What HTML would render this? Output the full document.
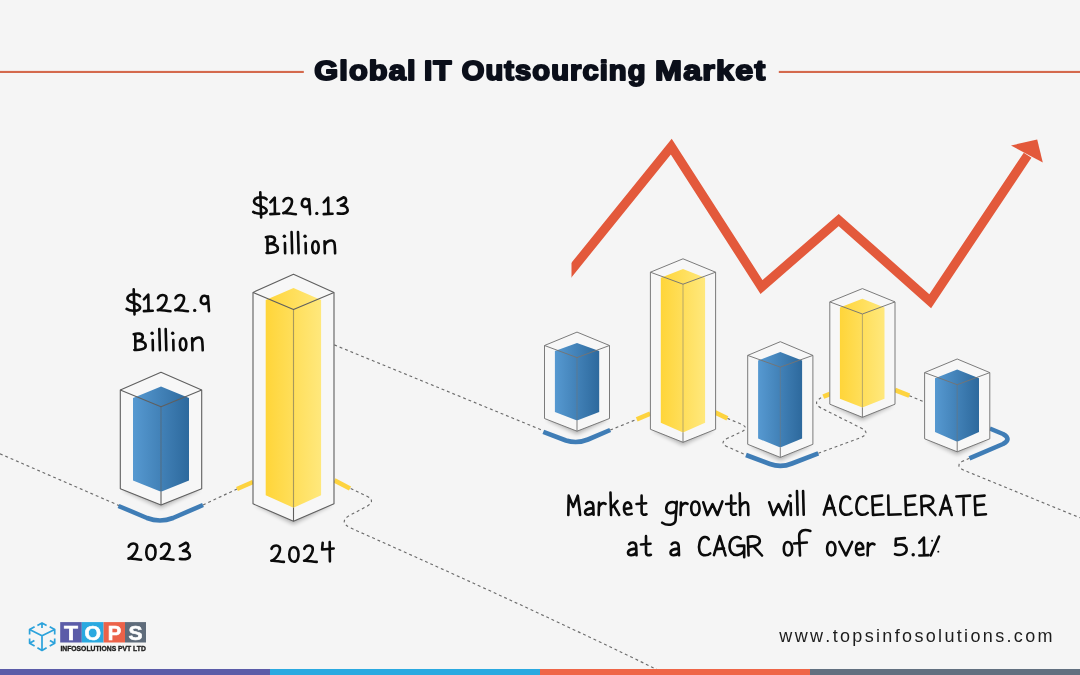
<!DOCTYPE html>
<html><head><meta charset="utf-8">
<style>
html,body{margin:0;padding:0;}
body{width:1080px;height:675px;overflow:hidden;background:#f5f5f5;font-family:"Liberation Sans",sans-serif;position:relative;}
svg{position:absolute;left:0;top:0;will-change:transform;}
.hw path{vector-effect:non-scaling-stroke;}
</style></head><body>
<svg width="1080" height="675" viewBox="0 0 1080 675">
<defs>
<linearGradient id="gb" x1="0" y1="0" x2="1" y2="0"><stop offset="0" stop-color="#5699d1"/><stop offset="1" stop-color="#2d699d"/></linearGradient>
<linearGradient id="gy" x1="0" y1="0" x2="1" y2="0"><stop offset="0" stop-color="#ffd539"/><stop offset="1" stop-color="#ffe87c"/></linearGradient>
<clipPath id="cl"><rect x="571.5" y="100" width="520" height="260"/></clipPath>
<filter id="blur" x="-20%" y="-50%" width="140%" height="200%"><feGaussianBlur stdDeviation="2.2"/></filter>
</defs>
<rect width="1080" height="675" fill="#f5f5f5"/>
<!-- title rules -->
<rect x="0" y="70.9" width="303.8" height="2.1" fill="#d4694d"/>
<rect x="778.8" y="70.9" width="301.2" height="2.1" fill="#d4694d"/>

<!-- dotted connectors -->
<path fill="none" stroke="#6c6c6c" stroke-width="1.15" stroke-dasharray="2.9 2.9" d="M0,453.8 L119.2,505.6"/>
<path fill="none" stroke="#6c6c6c" stroke-width="1.15" stroke-dasharray="2.9 2.9" d="M203,505 L237,489"/>
<path fill="none" stroke="#6c6c6c" stroke-width="1.15" stroke-dasharray="2.9 2.9" d="M350.7,488.4 L366.5,496 Q376.5,501 366.5,506.5 L349.5,515.5 Q339,521.5 349.5,527.5 Q530,607.6 656.5,669.3"/>
<path fill="none" stroke="#6c6c6c" stroke-width="1.15" stroke-dasharray="2.9 2.9" d="M334.3,344.9 L543.6,430.8"/>
<path fill="none" stroke="#6c6c6c" stroke-width="1.15" stroke-dasharray="2.9 2.9" d="M610.2,430 L636.7,419.4"/>
<path fill="none" stroke="#6c6c6c" stroke-width="1.15" stroke-dasharray="2.9 2.9" d="M727.4,418.4 L741,424 Q750,428 741,432 L728,438 Q718,443 728,447 L746,455"/>
<path fill="none" stroke="#6c6c6c" stroke-width="1.15" stroke-dasharray="2.9 2.9" d="M818.3,453.3 L861,437.5 Q871,433 861,428 L821,408 Q811,402 823.3,396.7"/>
<path fill="none" stroke="#6c6c6c" stroke-width="1.15" stroke-dasharray="2.9 2.9" d="M909.3,395.7 L925,402.3"/>
<path fill="none" stroke="#6c6c6c" stroke-width="1.15" stroke-dasharray="2.9 2.9" d="M969.4,458.3 L962,461.5 Q955,466 964,470.3 L1080,517.8"/>
<!-- coloured connectors -->
<path fill="none" stroke="#3f7db6" stroke-width="4.6" stroke-linecap="butt" stroke-linejoin="round" d="M118.5,506 L147,518 Q160,523 173,518 L203,505"/>
<path fill="none" stroke="#fdd33f" stroke-width="4.6" stroke-linecap="butt" d="M237,489 L253,482"/>
<path fill="none" stroke="#fdd33f" stroke-width="4.6" stroke-linecap="butt" d="M334.4,480.4 L350,488.5"/>
<path fill="none" stroke="#3f7db6" stroke-width="4.6" stroke-linecap="butt" stroke-linejoin="round" d="M543.3,431.9 L566,440.5 Q577,444 588,439.5 L610.2,430"/>
<path fill="none" stroke="#fdd33f" stroke-width="4.6" stroke-linecap="butt" d="M636.7,419.4 L650.2,413.7"/>
<path fill="none" stroke="#fdd33f" stroke-width="4.6" stroke-linecap="butt" d="M715,412.4 L727.4,418.4"/>
<path fill="none" stroke="#3f7db6" stroke-width="4.6" stroke-linecap="butt" stroke-linejoin="round" d="M746,455 L770,464 Q781,468 792,463.5 L818.3,453.3"/>
<path fill="none" stroke="#fdd33f" stroke-width="4.6" stroke-linecap="butt" d="M823.3,396.7 L830,394"/>
<path fill="none" stroke="#fdd33f" stroke-width="4.6" stroke-linecap="butt" d="M895,390 L909.3,395.7"/>
<path fill="none" stroke="#3f7db6" stroke-width="4.6" stroke-linecap="butt" stroke-linejoin="round" d="M989.8,428.5 L1003,434 Q1012,439 1003,444 L969.4,458.3"/>

<!-- trend arrow -->
<polyline points="563.4,280 671.3,146.7 761.5,287 838.7,220 930.2,301.2 1027.6,155.2" fill="none" stroke="#e3593b" stroke-width="9.2" stroke-linejoin="miter" stroke-miterlimit="10" clip-path="url(#cl)"/>
<polygon points="1037.2,139.6 1011,145.5 1042.8,162.4" fill="#e3593b"/>
<polygon points="122.3,489.7 161,508.0 199.7,489.7 161,480.7" fill="#000" opacity="0.28" filter="url(#blur)"/>
<polygon points="161,372.3 201.7,390.0 201.7,488.7 161,505.0 120.3,488.7 120.3,390.0" fill="#f7f7f7"/>
<polygon points="161,386.5 189.0,398.0 189.0,480.4 161,491.8 133.0,480.4 133.0,398.0" fill="url(#gb)"/>
<g fill="none" stroke="#5f5f5f" stroke-width="1.1" stroke-linejoin="round"><polygon points="161,372.3 201.7,390.0 201.7,488.7 161,505.0 120.3,488.7 120.3,390.0"/><polyline points="120.3,390.0 161,406.7 201.7,390.0"/><line x1="161" y1="406.7" x2="161" y2="491.8" stroke-opacity="0.55"/><line x1="161" y1="491.8" x2="161" y2="505.0"/></g>
<polygon points="255.0,504.8 293.5,524.2 332.0,504.8 293.5,495.8" fill="#000" opacity="0.28" filter="url(#blur)"/>
<polygon points="293.5,274.3 334.0,292.4 334.0,503.8 293.5,521.2 253.0,503.8 253.0,292.4" fill="#f7f7f7"/>
<polygon points="293.5,288.0 321.1,300.0 321.1,495.3 293.5,507.7 265.7,495.3 265.7,300.0" fill="url(#gy)"/>
<g fill="none" stroke="#5f5f5f" stroke-width="1.1" stroke-linejoin="round"><polygon points="293.5,274.3 334.0,292.4 334.0,503.8 293.5,521.2 253.0,503.8 253.0,292.4"/><polyline points="253.0,292.4 293.5,309.4 334.0,292.4"/><line x1="293.5" y1="309.4" x2="293.5" y2="507.7" stroke-opacity="0.55"/><line x1="293.5" y1="507.7" x2="293.5" y2="521.2"/></g>
<polygon points="546.5,419.5 577,434.2 607.5,419.5 577,410.5" fill="#000" opacity="0.28" filter="url(#blur)"/>
<polygon points="577,332.1 609.5,345.5 609.5,418.5 577,431.2 544.5,418.5 544.5,345.5" fill="#f7f7f7"/>
<polygon points="577,342.9 599.2,351.0 599.2,412.0 577,420.5 554.9,412.0 554.9,351.0" fill="url(#gb)"/>
<g fill="none" stroke="#747474" stroke-width="0.95" stroke-linejoin="round"><polygon points="577,332.1 609.5,345.5 609.5,418.5 577,431.2 544.5,418.5 544.5,345.5"/><polyline points="544.5,345.5 577,357.6 609.5,345.5"/><line x1="577" y1="357.6" x2="577" y2="420.5" stroke-opacity="0.55"/><line x1="577" y1="420.5" x2="577" y2="431.2"/></g>
<polygon points="652.4,430.3 683,445.3 713.6,430.3 683,421.3" fill="#000" opacity="0.28" filter="url(#blur)"/>
<polygon points="683,258.8 715.6,272.2 715.6,429.3 683,442.3 650.4,429.3 650.4,272.2" fill="#f7f7f7"/>
<polygon points="683,268.9 705.1,277.7 705.1,422.7 683,432.5 660.8,422.7 660.8,277.7" fill="url(#gy)"/>
<g fill="none" stroke="#747474" stroke-width="0.95" stroke-linejoin="round"><polygon points="683,258.8 715.6,272.2 715.6,429.3 683,442.3 650.4,429.3 650.4,272.2"/><polyline points="650.4,272.2 683,284.2 715.6,272.2"/><line x1="683" y1="284.2" x2="683" y2="432.5" stroke-opacity="0.55"/><line x1="683" y1="432.5" x2="683" y2="442.3"/></g>
<polygon points="749.6999999999999,445.3 780.3,460.4 810.9,445.3 780.3,436.3" fill="#000" opacity="0.28" filter="url(#blur)"/>
<polygon points="780.3,341.7 812.9,355.4 812.9,444.3 780.3,457.4 747.6999999999999,444.3 747.6999999999999,355.4" fill="#f7f7f7"/>
<polygon points="780.3,352.1 802.1,360.6 802.1,438.5 780.3,447.6 758.1,438.5 758.1,360.6" fill="url(#gb)"/>
<g fill="none" stroke="#747474" stroke-width="0.95" stroke-linejoin="round"><polygon points="780.3,341.7 812.9,355.4 812.9,444.3 780.3,457.4 747.6999999999999,444.3 747.6999999999999,355.4"/><polyline points="747.6999999999999,355.4 780.3,367.1 812.9,355.4"/><line x1="780.3" y1="367.1" x2="780.3" y2="447.6" stroke-opacity="0.55"/><line x1="780.3" y1="447.6" x2="780.3" y2="457.4"/></g>
<polygon points="831.8,405.2 862.4,420.3 893.0,405.2 862.4,396.2" fill="#000" opacity="0.28" filter="url(#blur)"/>
<polygon points="862.4,288.6 895.0,301.9 895.0,404.2 862.4,417.3 829.8,404.2 829.8,301.9" fill="#f7f7f7"/>
<polygon points="862.4,298.7 884.5,307.5 884.5,398.7 862.4,407.5 839.9,398.7 839.9,307.5" fill="url(#gy)"/>
<g fill="none" stroke="#747474" stroke-width="0.95" stroke-linejoin="round"><polygon points="862.4,288.6 895.0,301.9 895.0,404.2 862.4,417.3 829.8,404.2 829.8,301.9"/><polyline points="829.8,301.9 862.4,314.0 895.0,301.9"/><line x1="862.4" y1="314.0" x2="862.4" y2="407.5" stroke-opacity="0.55"/><line x1="862.4" y1="407.5" x2="862.4" y2="417.3"/></g>
<polygon points="926.6,439.8 957.2,454.8 987.8000000000001,439.8 957.2,430.8" fill="#000" opacity="0.28" filter="url(#blur)"/>
<polygon points="957.2,359.0 989.8000000000001,372.6 989.8000000000001,438.8 957.2,451.8 924.6,438.8 924.6,372.6" fill="#f7f7f7"/>
<polygon points="957.2,369.4 979.0,378.2 979.0,432.0 957.2,441.7 935.0,432.0 935.0,378.2" fill="url(#gb)"/>
<g fill="none" stroke="#747474" stroke-width="0.95" stroke-linejoin="round"><polygon points="957.2,359.0 989.8000000000001,372.6 989.8000000000001,438.8 957.2,451.8 924.6,438.8 924.6,372.6"/><polyline points="924.6,372.6 957.2,384.7 989.8000000000001,372.6"/><line x1="957.2" y1="384.7" x2="957.2" y2="441.7" stroke-opacity="0.55"/><line x1="957.2" y1="441.7" x2="957.2" y2="451.8"/></g>
<!-- bottom strip -->
<rect x="0" y="669" width="270" height="6" fill="#5b5ca8"/>
<rect x="270" y="669" width="270" height="6" fill="#2aa9e0"/>
<rect x="540" y="669" width="270" height="6" fill="#ef6547"/>
<rect x="810" y="669" width="270" height="6" fill="#627080"/>
<!-- logo -->
<g fill="none" stroke="#2ba2db" stroke-width="1.7" stroke-linecap="butt" stroke-linejoin="round">
<path d="M29.6,629.5 L42,635.8 L54.7,629.5 M42,635.8 L42,650.4"/>
<path d="M37.4,625.4 L42,622.9 L46.6,625.4 M42,622.9 L42,628"/>
<path d="M34.6,626.7 L29.6,629.5 L29.6,634.4"/>
<path d="M49.7,626.7 L54.7,629.5 L54.7,634.4"/>
<path d="M29.6,638.4 L29.6,643.3 L34.6,646.1 M29.6,643.3 L34.4,640.4"/>
<path d="M54.7,638.4 L54.7,643.3 L49.7,646.1 M54.7,643.3 L49.9,640.4"/>
<path d="M37.4,647.8 L42,650.4 L46.6,647.8"/>
</g>
<rect x="60.2" y="622.1" width="21.6" height="20.4" fill="#5b5ca8"/>
<rect x="81.8" y="622.1" width="21.8" height="20.4" fill="#2aa9e0"/>
<rect x="103.6" y="622.1" width="21.4" height="20.4" fill="#ec6249"/>
<rect x="125" y="622.1" width="21" height="20.4" fill="#5f6c7b"/>
<g font-family="Liberation Sans, sans-serif" font-weight="700" font-size="20" fill="#fff" text-anchor="middle" stroke="#fff" stroke-width="0.6">
<text x="71" y="639.5" textLength="14" lengthAdjust="spacingAndGlyphs">T</text>
<text x="92.7" y="639.5" textLength="16.6" lengthAdjust="spacingAndGlyphs">O</text>
<text x="114.5" y="639.5" textLength="13.5" lengthAdjust="spacingAndGlyphs">P</text>
<text x="135.5" y="639.5" textLength="14" lengthAdjust="spacingAndGlyphs">S</text>
</g>
<text x="60.4" y="651" font-family="Liberation Sans, sans-serif" font-weight="700" font-size="7.6" fill="#1a1a1a" stroke="#1a1a1a" stroke-width="0.35" textLength="85.4" lengthAdjust="spacingAndGlyphs">INFOSOLUTIONS PVT LTD</text>
</svg>

<svg width="1080" height="675" viewBox="0 0 1080 675" style="font-family:'Liberation Sans',sans-serif;font-kerning:none;"><text transform="translate(314.14,79.7) scale(1.1202,1)" x="0" y="0" font-size="27.5" font-weight="700" letter-spacing="1.0" fill="#0b0f1a" stroke="#0b0f1a" stroke-width="2.0" stroke-linejoin="round" style="vector-effect:non-scaling-stroke">Global</text>
<text transform="translate(423.90,79.7) scale(1.0857,1)" x="0" y="0" font-size="27.5" font-weight="700" letter-spacing="1.0" fill="#0b0f1a" stroke="#0b0f1a" stroke-width="2.0" stroke-linejoin="round" style="vector-effect:non-scaling-stroke">IT</text>
<text transform="translate(461.81,79.7) scale(1.0592,1)" x="0" y="0" font-size="27.5" font-weight="700" letter-spacing="1.0" fill="#0b0f1a" stroke="#0b0f1a" stroke-width="2.0" stroke-linejoin="round" style="vector-effect:non-scaling-stroke">Outsourcing</text>
<text transform="translate(655.04,79.7) scale(1.1763,1)" x="0" y="0" font-size="27.5" font-weight="700" letter-spacing="1.0" fill="#0b0f1a" stroke="#0b0f1a" stroke-width="2.0" stroke-linejoin="round" style="vector-effect:non-scaling-stroke">Market</text>
<g class="hw" fill="none" stroke="#0b0b0b" stroke-width="2.6" stroke-linecap="round" stroke-linejoin="round"><!-- $129.13 gap=4.95 --><g transform="translate(253.20,214.1) scale(0.2030,0.1810)"><path d="M66,-82 C55,-96 18,-98 7,-80 C-3,-60 16,-52 36,-44 C58,-36 72,-26 64,-12 C55,3 15,0 0,-12 M35,-120 L39,18"/></g><g transform="translate(270.35,214.1) scale(0.1571,0.1810)"><path d="M0,-65 L28,-91 L29,-1 M0,0 L56,-2"/></g><g transform="translate(283.10,214.1) scale(0.2000,0.1810)"><path d="M2,-71 C6,-89 30,-95 41,-82 C50,-68 40,-39 22,-20 C14,-11 6,-7 1,-5.5 C20,-9 40,0 64,1"/></g><g transform="translate(301.65,214.1) scale(0.1826,0.1810)"><path d="M41,-64 C38,-90 8,-93 2,-66 C-4,-38 24,-30 41,-52 M40,-82 L46,0"/></g><g transform="translate(316.20,214.1) scale(0.2000,0.1720)"><ellipse cx="3" cy="-4" rx="8.25" ry="9.59" fill="#0b0b0b" stroke="none"/></g><g transform="translate(323.75,214.1) scale(0.1571,0.1810)"><path d="M0,-65 L28,-91 L29,-1 M0,0 L56,-2"/></g><g transform="translate(337.70,214.1) scale(0.1961,0.1810)"><path d="M0,-75 L31,-93 C44,-90 46,-72 38,-62 C32,-54 24,-50 16,-48 C35,-48 50,-38 51,-22 C51,-5 30,2 0,-4"/></g></g>
<g class="hw" fill="none" stroke="#0b0b0b" stroke-width="2.6" stroke-linecap="round" stroke-linejoin="round"><!-- Billion gap=5.83 --><g transform="translate(265.90,253.29999999999998) scale(0.1714,0.1720)"><path d="M9,-95 L10,-2 M0,-94 C20,-100 51,-101 53,-80 C54,-62 32,-55 15,-53 C45,-57 70,-46 70,-27 C70,-5 30,0 4,-2"/></g><g transform="translate(283.73,253.29999999999998) scale(0.2000,0.1720)"><path d="M6,-60 L7,0"/><ellipse cx="3" cy="-99" rx="8.55" ry="9.94" fill="#0b0b0b" stroke="none"/></g><g transform="translate(291.57,253.29999999999998) scale(0.2000,0.1720)"><path d="M0,-124 L3,-1"/></g><g transform="translate(298.00,253.29999999999998) scale(0.2000,0.1720)"><path d="M0,-124 L3,-1"/></g><g transform="translate(304.43,253.29999999999998) scale(0.2000,0.1720)"><path d="M6,-60 L7,0"/><ellipse cx="3" cy="-99" rx="8.55" ry="9.94" fill="#0b0b0b" stroke="none"/></g><g transform="translate(312.27,253.29999999999998) scale(0.1600,0.1720)"><path d="M20,-70 C4,-70 0,-50 0,-35 C0,-18 6,0 20,0 C34,0 40,-18 40,-35 C40,-52 34,-70 20,-70 Z"/></g><g transform="translate(324.50,253.29999999999998) scale(0.2000,0.1720)"><path d="M0,-70 L2,0 M2,-48 C10,-72 40,-86 49,-62 C53,-45 52,-20 53,0"/></g></g>
<g class="hw" fill="none" stroke="#0b0b0b" stroke-width="2.6" stroke-linecap="round" stroke-linejoin="round"><!-- $122.9 gap=4.52 --><g transform="translate(126.60,311.09999999999997) scale(0.2030,0.1810)"><path d="M66,-82 C55,-96 18,-98 7,-80 C-3,-60 16,-52 36,-44 C58,-36 72,-26 64,-12 C55,3 15,0 0,-12 M35,-120 L39,18"/></g><g transform="translate(143.92,311.09999999999997) scale(0.1571,0.1810)"><path d="M0,-65 L28,-91 L29,-1 M0,0 L56,-2"/></g><g transform="translate(157.64,311.09999999999997) scale(0.2000,0.1810)"><path d="M2,-71 C6,-89 30,-95 41,-82 C50,-68 40,-39 22,-20 C14,-11 6,-7 1,-5.5 C20,-9 40,0 64,1"/></g><g transform="translate(175.16,311.09999999999997) scale(0.2000,0.1810)"><path d="M2,-71 C6,-89 30,-95 41,-82 C50,-68 40,-39 22,-20 C14,-11 6,-7 1,-5.5 C20,-9 40,0 64,1"/></g><g transform="translate(194.08,311.09999999999997) scale(0.2000,0.1720)"><ellipse cx="3" cy="-4" rx="8.25" ry="9.59" fill="#0b0b0b" stroke="none"/></g><g transform="translate(200.60,311.09999999999997) scale(0.1826,0.1810)"><path d="M41,-64 C38,-90 8,-93 2,-66 C-4,-38 24,-30 41,-52 M40,-82 L46,0"/></g></g>
<g class="hw" fill="none" stroke="#0b0b0b" stroke-width="2.6" stroke-linecap="round" stroke-linejoin="round"><!-- Billion gap=5.80 --><g transform="translate(133.70,350.3) scale(0.1714,0.1720)"><path d="M9,-95 L10,-2 M0,-94 C20,-100 51,-101 53,-80 C54,-62 32,-55 15,-53 C45,-57 70,-46 70,-27 C70,-5 30,0 4,-2"/></g><g transform="translate(151.50,350.3) scale(0.2000,0.1720)"><path d="M6,-60 L7,0"/><ellipse cx="3" cy="-99" rx="8.55" ry="9.94" fill="#0b0b0b" stroke="none"/></g><g transform="translate(159.30,350.3) scale(0.2000,0.1720)"><path d="M0,-124 L3,-1"/></g><g transform="translate(165.70,350.3) scale(0.2000,0.1720)"><path d="M0,-124 L3,-1"/></g><g transform="translate(172.10,350.3) scale(0.2000,0.1720)"><path d="M6,-60 L7,0"/><ellipse cx="3" cy="-99" rx="8.55" ry="9.94" fill="#0b0b0b" stroke="none"/></g><g transform="translate(179.90,350.3) scale(0.1600,0.1720)"><path d="M20,-70 C4,-70 0,-50 0,-35 C0,-18 6,0 20,0 C34,0 40,-18 40,-35 C40,-52 34,-70 20,-70 Z"/></g><g transform="translate(192.10,350.3) scale(0.2000,0.1720)"><path d="M0,-70 L2,0 M2,-48 C10,-72 40,-86 49,-62 C53,-45 52,-20 53,0"/></g></g>
<g class="hw" fill="none" stroke="#0b0b0b" stroke-width="2.6" stroke-linecap="round" stroke-linejoin="round"><!-- 2023 gap=5.20 --><g transform="translate(128.30,559.6) scale(0.2000,0.1810)"><path d="M2,-71 C6,-89 30,-95 41,-82 C50,-68 40,-39 22,-20 C14,-11 6,-7 1,-5.5 C20,-9 40,0 64,1"/></g><g transform="translate(146.30,559.6) scale(0.2000,0.1810)"><path d="M23,-80 C5,-80 0,-58 0,-40 C0,-20 6,0 23,0 C40,0 46,-22 46,-40 C46,-58 41,-80 23,-80 Z"/></g><g transform="translate(160.70,559.6) scale(0.2000,0.1810)"><path d="M2,-71 C6,-89 30,-95 41,-82 C50,-68 40,-39 22,-20 C14,-11 6,-7 1,-5.5 C20,-9 40,0 64,1"/></g><g transform="translate(179.90,559.6) scale(0.1961,0.1810)"><path d="M0,-75 L31,-93 C44,-90 46,-72 38,-62 C32,-54 24,-50 16,-48 C35,-48 50,-38 51,-22 C51,-5 30,2 0,-4"/></g></g>
<g class="hw" fill="none" stroke="#0b0b0b" stroke-width="2.6" stroke-linecap="round" stroke-linejoin="round"><!-- 2024 gap=5.40 --><g transform="translate(271.10,561.7) scale(0.2000,0.1810)"><path d="M2,-71 C6,-89 30,-95 41,-82 C50,-68 40,-39 22,-20 C14,-11 6,-7 1,-5.5 C20,-9 40,0 64,1"/></g><g transform="translate(289.30,561.7) scale(0.2000,0.1810)"><path d="M23,-80 C5,-80 0,-58 0,-40 C0,-20 6,0 23,0 C40,0 46,-22 46,-40 C46,-58 41,-80 23,-80 Z"/></g><g transform="translate(303.90,561.7) scale(0.2000,0.1810)"><path d="M2,-71 C6,-89 30,-95 41,-82 C50,-68 40,-39 22,-20 C14,-11 6,-7 1,-5.5 C20,-9 40,0 64,1"/></g><g transform="translate(322.10,561.7) scale(0.2000,0.1810)"><path d="M3,-105 L0,-67 L58,-73 M38,-108 L39,-2"/></g></g>
<g class="hw" fill="none" stroke="#0b0b0b" stroke-width="2.6" stroke-linecap="round" stroke-linejoin="round"><!-- Market gap=4.91 --><g transform="translate(568.30,515.0) scale(0.1976,0.1934)"><path d="M0,0 L2,-100 L25,-42 L48,-100 L60,0"/></g><g transform="translate(585.06,515.0) scale(0.1938,0.1934)"><path d="M6,-58 C15,-71 40,-72 42,-50 L44,-1 M42,-33 C25,-37 0,-31 0,-14 C0,4 30,2 43,-15"/></g><g transform="translate(598.50,515.0) scale(0.1861,0.1934)"><path d="M3,-64 L1,0 M2,-40 C10,-58 24,-66 38,-58"/></g><g transform="translate(610.48,515.0) scale(0.1941,0.1934)"><path d="M0,-116 L3,0 M3,-36 L36,-73 M16,-50 L45,0"/></g><g transform="translate(624.12,515.0) scale(0.1872,0.1934)"><path d="M2,-31 L38,-36 C38,-56 28,-67 16,-65 C4,-62 -2,-45 0,-25 C2,-5 16,3 40,-6"/></g><g transform="translate(636.52,515.0) scale(0.1884,0.1934)"><path d="M27,-100 L27,-14 C27,-2 38,2 53,-4 M0,-57 L51,-61"/></g></g>
<g class="hw" fill="none" stroke="#0b0b0b" stroke-width="2.6" stroke-linecap="round" stroke-linejoin="round"><!-- growth gap=3.70 --><g transform="translate(662.20,515.0) scale(0.2080,0.1934)"><path d="M68,-58 C55,-73 25,-71 20,-40 C15,-4 50,-2 67,-24 M70,-68 L64,30 C60,52 25,58 0,40"/></g><g transform="translate(680.46,515.0) scale(0.1861,0.1934)"><path d="M3,-64 L1,0 M2,-40 C10,-58 24,-66 38,-58"/></g><g transform="translate(691.23,515.0) scale(0.2080,0.1934)"><path d="M20,-70 C4,-70 0,-50 0,-35 C0,-18 6,0 20,0 C34,0 40,-18 40,-35 C40,-52 34,-70 20,-70 Z"/></g><g transform="translate(703.25,515.0) scale(0.2080,0.1934)"><path d="M0,-66 L20,0 L45,-56 L68,0 L92,-70"/></g><g transform="translate(726.09,515.0) scale(0.1884,0.1934)"><path d="M27,-100 L27,-14 C27,-2 38,2 53,-4 M0,-57 L51,-61"/></g><g transform="translate(739.77,515.0) scale(0.2080,0.1934)"><path d="M0,-112 L2,0 M2,-42 C10,-62 38,-80 40,-48 L41,0"/></g></g>
<g class="hw" fill="none" stroke="#0b0b0b" stroke-width="2.6" stroke-linecap="round" stroke-linejoin="round"><!-- will gap=4.01 --><g transform="translate(769.20,515.0) scale(0.2080,0.1934)"><path d="M0,-66 L20,0 L45,-56 L68,0 L92,-70"/></g><g transform="translate(789.44,515.0) scale(0.2080,0.1934)"><path d="M6,-60 L7,0"/><ellipse cx="3" cy="-99" rx="8.52" ry="9.16" fill="#0b0b0b" stroke="none"/></g><g transform="translate(796.98,515.0) scale(0.2080,0.1934)"><path d="M0,-124 L3,-1"/></g><g transform="translate(803.08,515.0) scale(0.2080,0.1934)"><path d="M0,-124 L3,-1"/></g></g>
<g class="hw" fill="none" stroke="#0b0b0b" stroke-width="2.6" stroke-linecap="round" stroke-linejoin="round"><!-- ACCELERATE gap=4.66 --><g transform="translate(823.80,515.0) scale(0.2008,0.1934)"><path d="M0,-2 L29,-100 L58,0 M12,-33 L50,-37"/></g><g transform="translate(840.11,515.0) scale(0.1788,0.1934)"><path d="M56,-83 C45,-103 14,-100 5,-68 C-5,-34 5,-5 26,-2 C40,0 55,-3 64,-11"/></g><g transform="translate(856.22,515.0) scale(0.1788,0.1934)"><path d="M56,-83 C45,-103 14,-100 5,-68 C-5,-34 5,-5 26,-2 C40,0 55,-3 64,-11"/></g><g transform="translate(872.32,515.0) scale(0.1812,0.1934)"><path d="M54,-100 L0,-96 L4,0 L62,-4 M3,-50 L50,-54"/></g><g transform="translate(888.22,515.0) scale(0.1863,0.1934)"><path d="M0,-100 L2,-1 L67,-4"/></g><g transform="translate(905.36,515.0) scale(0.1812,0.1934)"><path d="M54,-100 L0,-96 L4,0 L62,-4 M3,-50 L50,-54"/></g><g transform="translate(921.26,515.0) scale(0.1790,0.1934)"><path d="M0,-96 L4,0 M0,-96 C30,-103 68,-98 67,-72 C66,-52 30,-47 8,-46 M33,-47 L79,0"/></g><g transform="translate(940.06,515.0) scale(0.2008,0.1934)"><path d="M0,-2 L29,-100 L58,0 M12,-33 L50,-37"/></g><g transform="translate(956.38,515.0) scale(0.1738,0.1934)"><path d="M0,-96 L79,-100 M41,-97 L42,0"/></g><g transform="translate(974.77,515.0) scale(0.1812,0.1934)"><path d="M54,-100 L0,-96 L4,0 L62,-4 M3,-50 L50,-54"/></g></g>
<g class="hw" fill="none" stroke="#0b0b0b" stroke-width="2.6" stroke-linecap="round" stroke-linejoin="round"><!-- at gap=4.39 --><g transform="translate(628.00,555.5) scale(0.1938,0.1934)"><path d="M6,-58 C15,-71 40,-72 42,-50 L44,-1 M42,-33 C25,-37 0,-31 0,-14 C0,4 30,2 43,-15"/></g><g transform="translate(640.92,555.5) scale(0.1884,0.1934)"><path d="M27,-100 L27,-14 C27,-2 38,2 53,-4 M0,-57 L51,-61"/></g></g>
<g class="hw" fill="none" stroke="#0b0b0b" stroke-width="2.6" stroke-linecap="round" stroke-linejoin="round"><!-- a gap=0.00 --><g transform="translate(670.50,555.5) scale(0.1938,0.1934)"><path d="M6,-58 C15,-71 40,-72 42,-50 L44,-1 M42,-33 C25,-37 0,-31 0,-14 C0,4 30,2 43,-15"/></g></g>
<g class="hw" fill="none" stroke="#0b0b0b" stroke-width="2.6" stroke-linecap="round" stroke-linejoin="round"><!-- CAGR gap=3.66 --><g transform="translate(698.80,555.5) scale(0.1788,0.1934)"><path d="M56,-83 C45,-103 14,-100 5,-68 C-5,-34 5,-5 26,-2 C40,0 55,-3 64,-11"/></g><g transform="translate(713.90,555.5) scale(0.2008,0.1934)"><path d="M0,-2 L29,-100 L58,0 M12,-33 L50,-37"/></g><g transform="translate(729.22,555.5) scale(0.1849,0.1934)"><path d="M62,-87 C46,-104 10,-96 3,-60 C-3,-20 20,1 45,-3 C60,-5 74,-14 80,-26 M44,-50 L81,-51 L81,9"/></g><g transform="translate(747.86,555.5) scale(0.1790,0.1934)"><path d="M0,-96 L4,0 M0,-96 C30,-103 68,-98 67,-72 C66,-52 30,-47 8,-46 M33,-47 L79,0"/></g></g>
<g class="hw" fill="none" stroke="#0b0b0b" stroke-width="2.6" stroke-linecap="round" stroke-linejoin="round"><!-- of gap=1.85 --><g transform="translate(783.80,555.5) scale(0.2080,0.1934)"><path d="M20,-70 C4,-70 0,-50 0,-35 C0,-18 6,0 20,0 C34,0 40,-18 40,-35 C40,-52 34,-70 20,-70 Z"/></g><g transform="translate(793.97,555.5) scale(0.2080,0.1934)"><path d="M29,0 L25,-100 C24,-126 45,-140 79,-127 M0,-62 L62,-67"/></g></g>
<g class="hw" fill="none" stroke="#0b0b0b" stroke-width="2.6" stroke-linecap="round" stroke-linejoin="round"><!-- over gap=3.87 --><g transform="translate(827.10,555.5) scale(0.2080,0.1934)"><path d="M20,-70 C4,-70 0,-50 0,-35 C0,-18 6,0 20,0 C34,0 40,-18 40,-35 C40,-52 34,-70 20,-70 Z"/></g><g transform="translate(839.29,555.5) scale(0.2080,0.1934)"><path d="M0,-70 L32,0 L62,-70"/></g><g transform="translate(856.07,555.5) scale(0.1872,0.1934)"><path d="M2,-31 L38,-36 C38,-56 28,-67 16,-65 C4,-62 -2,-45 0,-25 C2,-5 16,3 40,-6"/></g><g transform="translate(867.43,555.5) scale(0.1861,0.1934)"><path d="M3,-64 L1,0 M2,-40 C10,-58 24,-66 38,-58"/></g></g>
<g class="hw" fill="none" stroke="#0b0b0b" stroke-width="2.6" stroke-linecap="round" stroke-linejoin="round"><!-- 5.1% gap=4.06 --><g transform="translate(895.00,555.5) scale(0.1824,0.1976)"><path d="M54,-88 L5,-84 L3,-50 C25,-62 62,-55 64,-32 C66,-5 25,3 0,-7"/></g><g transform="translate(912.58,555.5) scale(0.2080,0.1934)"><ellipse cx="3" cy="-4" rx="8.22" ry="8.84" fill="#0b0b0b" stroke="none"/></g><g transform="translate(919.34,555.5) scale(0.1634,0.1976)"><path d="M0,-65 L28,-91 L29,-1 M0,0 L56,-2"/></g><g transform="translate(930.67,555.5) scale(0.1777,0.1934)"><path d="M47,-98 L0,0"/><ellipse cx="8" cy="-76" rx="5.53" ry="5.08" fill="#0b0b0b" stroke="none"/><ellipse cx="43" cy="-20" rx="5.53" ry="5.08" fill="#0b0b0b" stroke="none"/></g></g>
<text x="779.33" y="642.0" font-size="18" font-weight="400" letter-spacing="2.336" fill="#1c1c1c">www.topsinfosolutions.com</text></svg>
</body></html>
